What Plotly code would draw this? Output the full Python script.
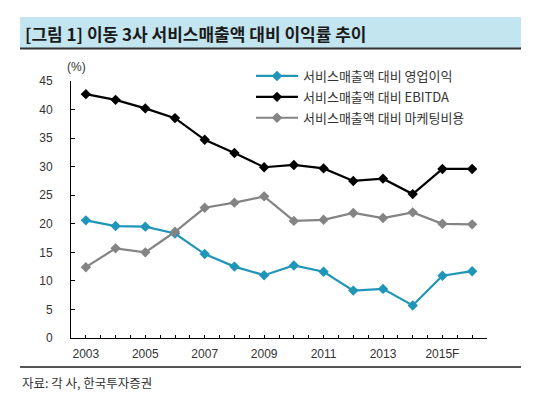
import plotly.graph_objects as go

years = list(range(2003, 2017))
tick_vals = [2003, 2005, 2007, 2009, 2011, 2013, 2015]
tick_text = ["2003", "2005", "2007", "2009", "2011", "2013", "2015F"]

op_margin = [20.6, 19.6, 19.5, 18.3, 14.7, 12.5, 11.0, 12.7, 11.6, 8.3, 8.6, 5.7, 10.9, 11.7]
ebitda = [42.7, 41.7, 40.2, 38.5, 34.7, 32.4, 29.9, 30.3, 29.7, 27.5, 27.9, 25.2, 29.6, 29.6]
marketing = [12.4, 15.7, 15.0, 18.6, 22.8, 23.7, 24.8, 20.5, 20.7, 21.9, 21.0, 22.0, 20.0, 19.9]

names = ["서비스매출액 대비 영업이익", "서비스매출액 대비 EBITDA", "서비스매출액 대비 마케팅비용"]
colors = ["#1F96B8", "#000000", "#848484"]
series = [op_margin, ebitda, marketing]

FONT = "Noto Sans CJK KR, Liberation Sans, sans-serif"
NUMFONT = "Liberation Sans, Arial, sans-serif"

# page body has an 8px margin; work in window pixels and subtract it
OX, OY = 8, 8
W, H = 550 - OX, 399 - OY
# plot area in window pixels: x 71..487, y 81..338
L = 71 - OX
R = 550 - 487
T = 81 - OY
B = 399 - 338
pw = W - L - R
ph = H - T - B


def px_x(px):
    return (px - OX - L) / pw


def px_y(py):
    return (H - B - (py - OY)) / ph


fig = go.Figure()
for name, vals, col in zip(names, series, colors):
    fig.add_trace(go.Scatter(
        x=years, y=vals, name=name, mode="lines+markers",
        line=dict(color=col, width=2.2),
        marker=dict(symbol="diamond", size=8, color=col),
        legendgroup=name,
    ))

fig.update_layout(
    width=W, height=H,
    margin=dict(l=L, r=R, t=T, b=B, autoexpand=False),
    paper_bgcolor="white", plot_bgcolor="white",
    font=dict(family=FONT, size=11, color="#333333"),
    showlegend=True,
    legend=dict(
        x=px_x(251), y=px_y(61), xanchor="left", yanchor="top",
        font=dict(family=FONT, size=13, color="#333333"),
        bgcolor="rgba(0,0,0,0)", tracegroupgap=1, itemwidth=42,
    ),
    xaxis=dict(
        range=[2002.5, 2016.5], tickmode="array", tickvals=tick_vals, ticktext=tick_text,
        showgrid=False, zeroline=False, showline=True, linecolor="#000000", linewidth=1,
        ticks="inside", ticklen=3, tickcolor="#000000",
        minor=dict(dtick=0.5, tick0=2002.5, ticks="inside", ticklen=3, tickcolor="#000000", showgrid=False),
        tickfont=dict(family=NUMFONT, size=12, color="#333333"),
        ticklabelstandoff=5,
    ),
    yaxis=dict(
        range=[0, 45], tickmode="array", tickvals=[0, 5, 10, 15, 20, 25, 30, 35, 40, 45],
        showgrid=False, zeroline=False, showline=True, linecolor="#000000", linewidth=1,
        ticks="inside", ticklen=4, tickcolor="#000000",
        tickfont=dict(family=NUMFONT, size=12, color="#333333"),
        ticklabelstandoff=15,
    ),
)

fig.add_shape(type="rect", xref="paper", yref="paper",
              x0=px_x(20), x1=px_x(521), y0=px_y(48), y1=px_y(17),
              fillcolor="#C2E5EF", line=dict(width=0), layer="below")
fig.add_shape(type="line", xref="paper", yref="paper",
              x0=px_x(20), x1=px_x(521), y0=px_y(48.5), y1=px_y(48.5),
              line=dict(color="#333333", width=2))
fig.add_shape(type="line", xref="paper", yref="paper",
              x0=px_x(20), x1=px_x(521), y0=px_y(367), y1=px_y(367),
              line=dict(color="#555555", width=2))

fig.add_annotation(xref="paper", yref="paper", x=px_x(23), y=px_y(33),
                   xanchor="left", yanchor="middle", showarrow=False,
                   text="<b>[그림 1] 이동 3사 서비스매출액 대비 이익률 추이</b>",
                   font=dict(family=FONT, size=17, color="#1a1a1a"))
fig.add_annotation(xref="paper", yref="paper", x=px_x(76), y=px_y(67),
                   xanchor="center", yanchor="middle", showarrow=False,
                   text="(%)", font=dict(family=NUMFONT, size=12, color="#333333"))
fig.add_annotation(xref="paper", yref="paper", x=px_x(20), y=px_y(382),
                   xanchor="left", yanchor="middle", showarrow=False,
                   text="자료: 각 사, 한국투자증권", font=dict(family=FONT, size=12.5, color="#333333"))

fig.write_html("out.html")
